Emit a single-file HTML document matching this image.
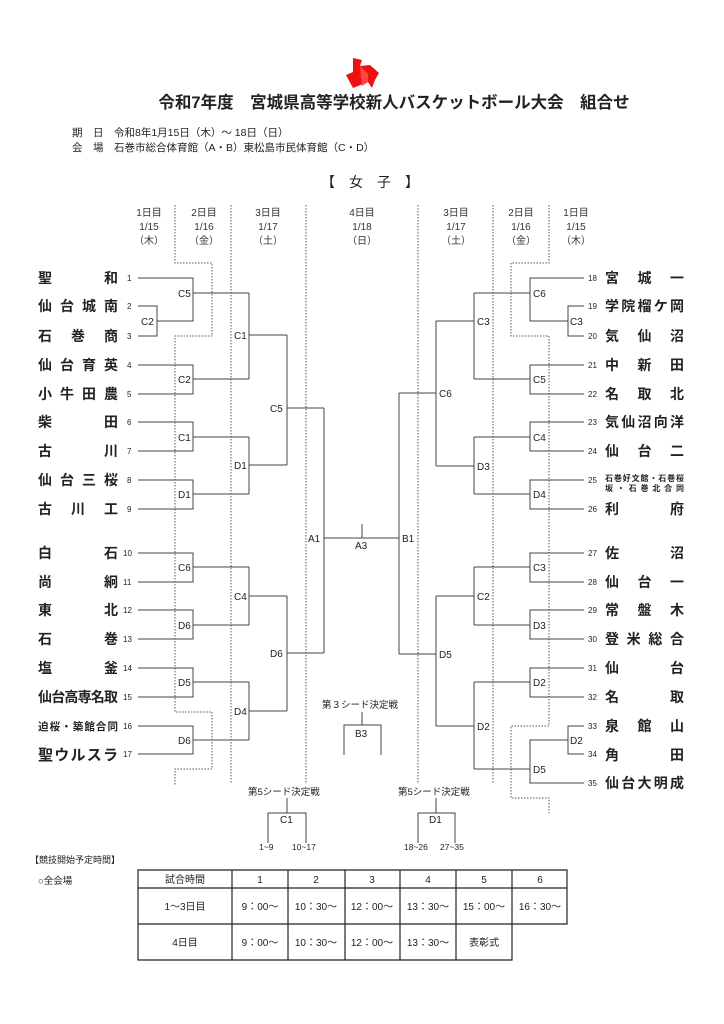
<!DOCTYPE html>
<html><head><meta charset="utf-8"><style>
html,body{margin:0;padding:0;background:#fff}
svg{display:block}
text{font-family:"Liberation Sans","Noto Sans CJK JP",sans-serif;fill:#222}
.n{font-size:14px;font-weight:bold}
.num{font-size:8px;fill:#555}
.lb{font-size:10px;fill:#333}
.hd{font-size:10px;fill:#333;text-anchor:middle}
</style></head><body>
<svg width="724" height="1024" viewBox="0 0 724 1024" xmlns="http://www.w3.org/2000/svg">
<polygon points="353,58 362,60 360,66 370,65 379,73 375,80 372,88 368,82 353,88 346,75 353,72" fill="#ee1111"/>
<polygon points="360,66 368,74 368,82 362,86" fill="#ff4444"/>
<text x="394" y="108" text-anchor="middle" style="font-size:16.5px;font-weight:bold">令和7年度　宮城県高等学校新人バスケットボール大会　組合せ</text>
<text x="72" y="136" style="font-size:10.5px">期　日　令和8年1月15日（木）～ 18日（日）</text>
<text x="72" y="151" style="font-size:10.5px">会　場　石巻市総合体育館（A・B）東松島市民体育館（C・D）</text>
<text x="370" y="187" text-anchor="middle" style="font-size:14px">【　女　子　】</text>

<g>
<text class="hd" x="149" y="216">1日目</text><text class="hd" x="149" y="230">1/15</text><text class="hd" x="149" y="244">（木）</text>
<text class="hd" x="204" y="216">2日目</text><text class="hd" x="204" y="230">1/16</text><text class="hd" x="204" y="244">（金）</text>
<text class="hd" x="268" y="216">3日目</text><text class="hd" x="268" y="230">1/17</text><text class="hd" x="268" y="244">（土）</text>
<text class="hd" x="362" y="216">4日目</text><text class="hd" x="362" y="230">1/18</text><text class="hd" x="362" y="244">（日）</text>
<text class="hd" x="456" y="216">3日目</text><text class="hd" x="456" y="230">1/17</text><text class="hd" x="456" y="244">（土）</text>
<text class="hd" x="521" y="216">2日目</text><text class="hd" x="521" y="230">1/16</text><text class="hd" x="521" y="244">（金）</text>
<text class="hd" x="576" y="216">1日目</text><text class="hd" x="576" y="230">1/15</text><text class="hd" x="576" y="244">（木）</text>
</g>

<g stroke="#555" stroke-width="1" stroke-dasharray="1.5,1.5" fill="none">
<path d="M175,205V263H212V336H175V712H212V769H175V786"/>
<path d="M231,205V784M306,205V784M418,205V784M493,205V784"/>
<path d="M549,205V263H511V336H549V726H511V798H549V813"/>
</g>

<g stroke="#444" stroke-width="1" fill="none">
<path d="M138,278H193V321H157M138,306H157V336H138M193,293H249"/>
<path d="M138,365H193V394H138M193,379H249"/>
<path d="M249,293V379M249,335H287"/>
<path d="M138,422H193V451H138M193,437H249"/>
<path d="M138,480H193V509H138M193,494H249"/>
<path d="M249,437V494M249,465H287"/>
<path d="M287,335V465M287,408H324"/>
<path d="M138,553H193V582H138M193,567H249"/>
<path d="M138,610H193V639H138M193,625H249"/>
<path d="M249,567V625M249,596H287"/>
<path d="M138,668H193V697H138M193,682H249"/>
<path d="M138,726H193V754H138M193,740H249"/>
<path d="M249,682V740M249,711H287"/>
<path d="M287,596V711M287,653H324"/>
<path d="M324,408V653M324,538H399M362,524V538"/>
<path d="M584,278H530V321H568M584,306H568V336H584M530,293H474"/>
<path d="M584,365H530V394H584M530,379H474"/>
<path d="M474,293V379M474,321H436"/>
<path d="M584,422H530V451H584M530,437H474"/>
<path d="M584,480H530V509H584M530,494H474"/>
<path d="M474,437V494M474,466H436"/>
<path d="M436,321V466M436,393H399"/>
<path d="M584,553H530V582H584M530,567H474"/>
<path d="M584,610H530V639H584M530,625H474"/>
<path d="M474,567V625M474,596H436"/>
<path d="M584,668H530V697H584M530,682H474"/>
<path d="M584,726H568V754H584M568,740H530V783H584M530,769H474"/>
<path d="M474,682V769M474,726H436"/>
<path d="M436,596V726M436,654H399"/>
<path d="M399,393V654"/>
<path d="M362,712V725M344,755V725H381V755"/>
<path d="M287,798V813M268,843V813H306V843"/>
<path d="M436,798V813M418,843V813H455V843"/>
</g>

<g class="lb">
<text x="178" y="297">C5</text><text x="141" y="325">C2</text><text x="178" y="383">C2</text>
<text x="234" y="339">C1</text><text x="178" y="441">C1</text><text x="178" y="498">D1</text>
<text x="234" y="469">D1</text><text x="270" y="412">C5</text>
<text x="178" y="571">C6</text><text x="178" y="629">D6</text><text x="234" y="600">C4</text>
<text x="178" y="686">D5</text><text x="178" y="744">D6</text><text x="234" y="715">D4</text>
<text x="270" y="657">D6</text><text x="308" y="542">A1</text><text x="355" y="549">A3</text>
<text x="402" y="542">B1</text>
<text x="533" y="297">C6</text><text x="570" y="325">C3</text><text x="533" y="383">C5</text>
<text x="477" y="325">C3</text><text x="533" y="441">C4</text><text x="533" y="498">D4</text>
<text x="477" y="470">D3</text><text x="439" y="397">C6</text>
<text x="533" y="571">C3</text><text x="533" y="629">D3</text><text x="477" y="600">C2</text>
<text x="533" y="686">D2</text><text x="570" y="744">D2</text><text x="533" y="773">D5</text>
<text x="477" y="730">D2</text><text x="439" y="658">D5</text>
<text x="322" y="708" style="font-size:9.5px">第３シード決定戦</text><text x="355" y="737">B3</text>
<text x="248" y="795" style="font-size:9.5px">第5シード決定戦</text><text x="280" y="823">C1</text>
<text x="259" y="850" style="font-size:8.5px">1~9</text><text x="292" y="850" style="font-size:8.5px">10~17</text>
<text x="398" y="795" style="font-size:9.5px">第5シード決定戦</text><text x="429" y="823">D1</text>
<text x="404" y="850" style="font-size:8.5px">18~26</text><text x="440" y="850" style="font-size:8.5px">27~35</text>
</g>

<g class="num">
<text x="127" y="281">1</text><text x="127" y="309">2</text><text x="127" y="339">3</text>
<text x="127" y="368">4</text><text x="127" y="397">5</text><text x="127" y="425">6</text>
<text x="127" y="454">7</text><text x="127" y="483">8</text><text x="127" y="512">9</text>
<text x="123" y="556">10</text><text x="123" y="585">11</text><text x="123" y="613">12</text>
<text x="123" y="642">13</text><text x="123" y="671">14</text><text x="123" y="700">15</text>
<text x="123" y="729">16</text><text x="123" y="757">17</text>
<text x="588" y="281">18</text><text x="588" y="309">19</text><text x="588" y="339">20</text>
<text x="588" y="368">21</text><text x="588" y="397">22</text><text x="588" y="425">23</text>
<text x="588" y="454">24</text><text x="588" y="483">25</text><text x="588" y="512">26</text>
<text x="588" y="556">27</text><text x="588" y="585">28</text><text x="588" y="613">29</text>
<text x="588" y="642">30</text><text x="588" y="671">31</text><text x="588" y="700">32</text>
<text x="588" y="729">33</text><text x="588" y="757">34</text><text x="588" y="786">35</text>
</g>

<g class="n">
<text x="38" y="283" textLength="80" lengthAdjust="spacing">聖和</text>
<text x="38" y="311" textLength="80" lengthAdjust="spacing">仙台城南</text>
<text x="38" y="341" textLength="80" lengthAdjust="spacing">石巻商</text>
<text x="38" y="370" textLength="80" lengthAdjust="spacing">仙台育英</text>
<text x="38" y="399" textLength="80" lengthAdjust="spacing">小牛田農</text>
<text x="38" y="427" textLength="80" lengthAdjust="spacing">柴田</text>
<text x="38" y="456" textLength="80" lengthAdjust="spacing">古川</text>
<text x="38" y="485" textLength="80" lengthAdjust="spacing">仙台三桜</text>
<text x="38" y="514" textLength="80" lengthAdjust="spacing">古川工</text>
<text x="38" y="558" textLength="80" lengthAdjust="spacing">白石</text>
<text x="38" y="587" textLength="80" lengthAdjust="spacing">尚絅</text>
<text x="38" y="615" textLength="80" lengthAdjust="spacing">東北</text>
<text x="38" y="644" textLength="80" lengthAdjust="spacing">石巻</text>
<text x="38" y="673" textLength="80" lengthAdjust="spacing">塩釜</text>
<text x="38" y="702" textLength="80" lengthAdjust="spacing">仙台高専名取</text>
<text x="38" y="730" style="font-size:10.5px" textLength="80" lengthAdjust="spacing">迫桜・築館合同</text>
<text x="38" y="760" style="font-size:15px" textLength="80" lengthAdjust="spacing">聖ウルスラ</text>
<text x="605" y="283" textLength="79" lengthAdjust="spacing">宮城一</text>
<text x="605" y="311" textLength="79" lengthAdjust="spacing">学院榴ケ岡</text>
<text x="605" y="341" textLength="79" lengthAdjust="spacing">気仙沼</text>
<text x="605" y="370" textLength="79" lengthAdjust="spacing">中新田</text>
<text x="605" y="399" textLength="79" lengthAdjust="spacing">名取北</text>
<text x="605" y="427" textLength="79" lengthAdjust="spacing">気仙沼向洋</text>
<text x="605" y="456" textLength="79" lengthAdjust="spacing">仙台二</text>
<text x="605" y="481" style="font-size:8px" textLength="79" lengthAdjust="spacing">石巻好文館・石巻桜</text>
<text x="605" y="491" style="font-size:8px" textLength="79" lengthAdjust="spacing">坂・石巻北合同</text>
<text x="605" y="514" textLength="79" lengthAdjust="spacing">利府</text>
<text x="605" y="558" textLength="79" lengthAdjust="spacing">佐沼</text>
<text x="605" y="587" textLength="79" lengthAdjust="spacing">仙台一</text>
<text x="605" y="615" textLength="79" lengthAdjust="spacing">常盤木</text>
<text x="605" y="644" textLength="79" lengthAdjust="spacing">登米総合</text>
<text x="605" y="673" textLength="79" lengthAdjust="spacing">仙台</text>
<text x="605" y="702" textLength="79" lengthAdjust="spacing">名取</text>
<text x="605" y="731" textLength="79" lengthAdjust="spacing">泉館山</text>
<text x="605" y="760" textLength="79" lengthAdjust="spacing">角田</text>
<text x="605" y="788" textLength="79" lengthAdjust="spacing">仙台大明成</text>
</g>

<text x="30" y="863" style="font-size:9px">【競技開始予定時間】</text>
<text x="38" y="884" style="font-size:9.5px">○全会場</text>
<g stroke="#222" stroke-width="1.2" fill="none">
<path d="M138,870H567V924H512V960H138Z"/>
<path d="M138,888H567M138,924H512M232,870V960M288,870V960M345,870V960M400,870V960M456,870V960M512,870V924"/>
</g>
<g style="font-size:10px" text-anchor="middle">
<text x="185" y="883">試合時間</text><text x="260" y="883">1</text><text x="316" y="883">2</text><text x="372" y="883">3</text><text x="428" y="883">4</text><text x="484" y="883">5</text><text x="540" y="883">6</text>
<text x="185" y="910">1～3日目</text><text x="260" y="910">9：00～</text><text x="316" y="910">10：30～</text><text x="372" y="910">12：00～</text><text x="428" y="910">13：30～</text><text x="484" y="910">15：00～</text><text x="540" y="910">16：30～</text>
<text x="185" y="946">4日目</text><text x="260" y="946">9：00～</text><text x="316" y="946">10：30～</text><text x="372" y="946">12：00～</text><text x="428" y="946">13：30～</text><text x="484" y="946">表彰式</text>
</g>
</svg>
</body></html>
